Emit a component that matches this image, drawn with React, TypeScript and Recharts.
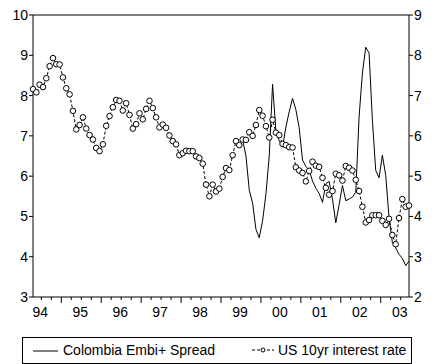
import React from 'react';
import { ComposedChart, Line, XAxis, YAxis, ReferenceLine } from 'recharts';

// monthly observations, index 0 = first month shown (spring 1994)
const usRate = [
  7.16, 7.08, 7.27, 7.21, 7.43, 7.73, 7.93, 7.78, 7.77, 7.45, 7.18, 7.03,
  6.62, 6.16, 6.27, 6.46, 6.18, 6.02, 5.91, 5.7, 5.62, 5.79, 6.25, 6.49,
  6.71, 6.89, 6.87, 6.63, 6.81, 6.52, 6.18, 6.29, 6.56, 6.41, 6.67, 6.87,
  6.69, 6.46, 6.21, 6.28, 6.2, 6.01, 5.87, 5.79, 5.52, 5.57, 5.63, 5.62,
  5.62, 5.49, 5.45, 5.31, 4.79, 4.5, 4.79, 4.62, 4.69, 4.98, 5.2, 5.15,
  5.52, 5.87, 5.77, 5.91, 5.9, 6.09, 6.0, 6.27, 6.64, 6.5, 6.24, 5.96,
  6.4, 6.08, 6.02, 5.8, 5.77, 5.72, 5.71, 5.22, 5.14, 5.08, 4.87, 5.13,
  5.36, 5.26, 5.23, 4.96, 4.71, 4.54, 4.63, 5.06, 5.02, 4.89, 5.25, 5.21,
  5.14, 4.91, 4.63, 4.24, 3.85, 3.91, 4.03, 4.03, 4.03, 3.89, 3.79, 3.94,
  3.54, 3.31, 3.96, 4.43, 4.24, 4.27,
];

const embiStart = 63;
const embiSpread = [
  6.9, 6.5, 5.65, 5.33, 4.68, 4.47, 4.89, 5.55, 6.5, 8.28,
  7.12, 6.88, 6.72, 7.22, 7.6, 7.93, 7.65, 7.2, 6.4, 6.24,
  6.15, 5.88, 5.7, 5.57, 5.35, 5.81, 5.87, 5.43, 4.84, 5.29,
  5.77, 5.39, 5.43, 5.48, 5.6, 7.47, 8.56, 9.2, 9.06, 7.39,
  6.14, 5.96, 6.52, 6.02, 4.97, 4.35, 4.22, 4.06, 3.96, 3.78,
  3.89,
];

const yearLabels = ['94', '95', '96', '97', '98', '99', '00', '01', '02', '03'];
const leftTicks = [3, 4, 5, 6, 7, 8, 9, 10];
const rightTicks = [2, 3, 4, 5, 6, 7, 8, 9];

const data = usRate.map((v, i) => ({
  i,
  us: v,
  embi: i >= embiStart ? embiSpread[i - embiStart] : null,
}));

// quarter boundaries (between observations)
const quarterTicks: number[] = [];
for (let t = 2.5; t < usRate.length - 1; t += 3) quarterTicks.push(t);

const font = '"Liberation Sans", Arial, sans-serif';

const QuarterTick = ({ x, y, payload }: any) => {
  const v = payload.value;
  const isYear = Math.abs((v - 8.5) % 12) < 0.01;
  const isMid = Math.abs((v - 2.5) % 12) < 0.01;
  const label = isMid ? yearLabels[Math.round((v - 2.5) / 12)] : null;
  return (
    <g>
      <line x1={x} y1={y} x2={x} y2={y + (isYear ? 6 : 3)} stroke="#000" />
      {label && (
        <text x={x - 1} y={y + 20} textAnchor="middle" fontSize={14} fontFamily={font} fill="#000">
          {label}
        </text>
      )}
    </g>
  );
};

const Dot = ({ cx, cy }: any) => (
  <circle cx={cx} cy={cy} r={2.8} fill="#fff" stroke="#000" strokeWidth={1} />
);

export default function App() {
  return (
    <div style={{ position: 'absolute', left: 0, top: 0, width: 438, height: 364, background: '#fff' }}>
      <ComposedChart width={438} height={330} data={data} margin={{ top: 15, right: 0, bottom: 0, left: 0 }}>
        <XAxis
          dataKey="i"
          type="number"
          domain={[0, usRate.length - 1]}
          ticks={quarterTicks}
          interval={0}
          tick={<QuarterTick />}
          tickLine={false}
          tickSize={0}
          tickMargin={0}
          axisLine={{ stroke: '#000' }}
          height={33}
        />
        <YAxis
          yAxisId="left"
          domain={[3, 10]}
          ticks={leftTicks}
          interval={0}
          width={33}
          tickSize={4}
          tickMargin={1}
          axisLine={{ stroke: '#000' }}
          tickLine={{ stroke: '#000' }}
          tick={{ fill: '#000', fontSize: 14, fontFamily: font }}
        />
        <YAxis
          yAxisId="right"
          orientation="right"
          domain={[2, 9]}
          ticks={rightTicks}
          interval={0}
          width={29}
          tickSize={4}
          tickMargin={1}
          axisLine={{ stroke: '#000' }}
          tickLine={{ stroke: '#000' }}
          tick={{ fill: '#000', fontSize: 14, fontFamily: font }}
        />
        <ReferenceLine yAxisId="left" y={10} stroke="#000" />
        <Line
          yAxisId="left"
          dataKey="embi"
          type="linear"
          stroke="#000"
          strokeWidth={1}
          dot={false}
          isAnimationActive={false}
        />
        <Line
          yAxisId="right"
          dataKey="us"
          type="linear"
          stroke="#000"
          strokeWidth={1}
          strokeDasharray="3 2"
          dot={<Dot />}
          isAnimationActive={false}
        />
      </ComposedChart>
      <div
        style={{
          position: 'absolute',
          left: 22,
          top: 337,
          width: 388,
          height: 25,
          border: '1px solid #000',
          fontFamily: font,
          fontSize: 14,
          color: '#000',
        }}
      >
        <svg style={{ position: 'absolute', left: 10, top: 8 }} width={26} height={10}>
          <line x1={0} y1={5} x2={25} y2={5} stroke="#000" />
        </svg>
        <span style={{ position: 'absolute', left: 40, top: 4, whiteSpace: 'nowrap' }}>Colombia Embi+ Spread</span>
        <svg style={{ position: 'absolute', left: 229, top: 7, overflow: 'visible' }} width={22} height={10}>
          <line x1={0} y1={5} x2={22} y2={5} stroke="#000" strokeDasharray="3 2" />
          <circle cx={11} cy={5} r={2} fill="#fff" stroke="#000" />
        </svg>
        <span style={{ position: 'absolute', left: 255, top: 4, whiteSpace: 'nowrap' }}>US 10yr interest rate</span>
      </div>
    </div>
  );
}
